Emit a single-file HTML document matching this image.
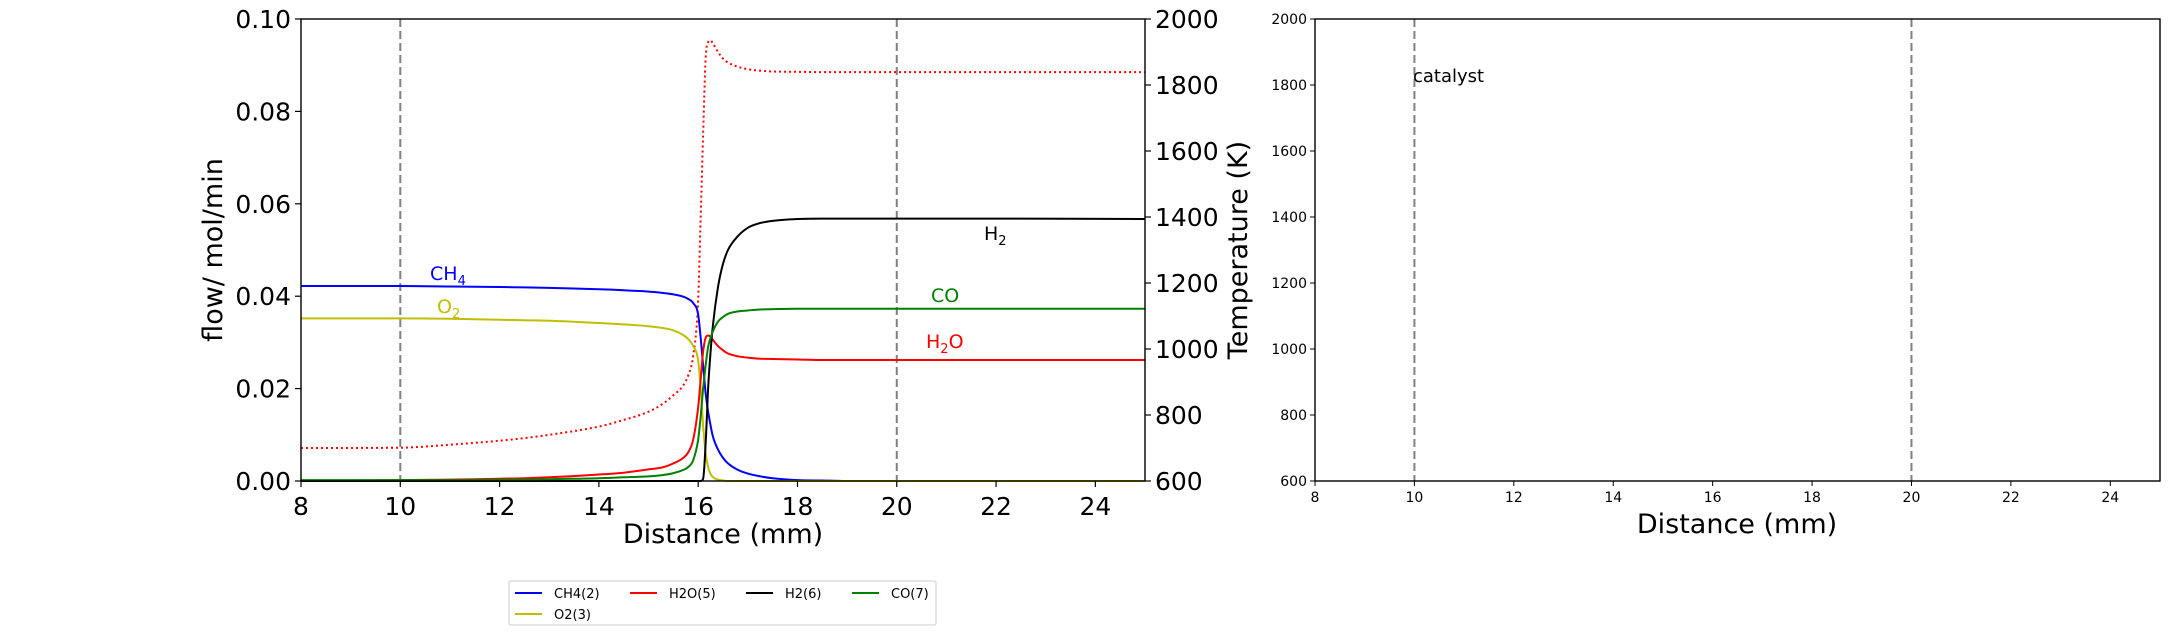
<!DOCTYPE html>
<html><head><meta charset="utf-8"><style>
body{margin:0;background:#fff;font-family:"Liberation Sans","DejaVu Sans",sans-serif}
svg text{font-family:"DejaVu Sans","Liberation Sans",sans-serif}
</style></head><body>
<svg id="fig" width="2173" height="636" xmlns="http://www.w3.org/2000/svg"></svg>
<script>
const xs=[8,10,11,12,12.5,13,14,14.5,15,15.3,15.5,15.7,15.8,15.9,16,16.05,16.1,16.15,16.2,16.25,16.3,16.4,16.5,16.6,16.8,17,17.2,17.5,18,18.5,19,20,22,25];
const ch4=[0.0422,0.0422,0.0421,0.042,0.0419,0.0418,0.0415,0.0413,0.041,0.0407,0.0404,0.0399,0.0394,0.0385,0.036,0.031,0.025,0.019,0.015,0.012,0.0095,0.0068,0.005,0.0038,0.0024,0.0016,0.0011,0.0006,0.0002,0.0001,0,0,0,0];
const o2=[0.0352,0.0352,0.0351,0.0349,0.0348,0.0347,0.0342,0.0339,0.0335,0.0331,0.0326,0.0316,0.0307,0.0292,0.026,0.02,0.012,0.006,0.003,0.0015,0.0008,0.0003,0.0001,0,0,0,0,0,0,0,0,0,0,0];
const h2o=[0,0.0002,0.0003,0.0005,0.0006,0.0008,0.0014,0.0018,0.0025,0.003,0.0038,0.005,0.0062,0.009,0.016,0.022,0.028,0.031,0.0315,0.0312,0.0305,0.0292,0.0283,0.0276,0.0270,0.0267,0.0265,0.0264,0.0263,0.0262,0.0262,0.0262,0.0262,0.0262];
const h2=[0,0,0,0,0,0,0,0,0,0,0,0,0,0,0,0,0.0005,0.008,0.02,0.028,0.034,0.042,0.047,0.050,0.053,0.0548,0.0557,0.0563,0.0567,0.0568,0.0568,0.0568,0.0568,0.0567];
const co=[0.0002,0.0002,0.0002,0.0003,0.0003,0.0004,0.0006,0.0008,0.001,0.0013,0.0017,0.0024,0.003,0.0045,0.009,0.014,0.02,0.025,0.029,0.031,0.0325,0.0345,0.0355,0.0362,0.0367,0.0369,0.0371,0.0372,0.0373,0.0373,0.0373,0.0373,0.0373,0.0373];
const temp=[700,701,710,722,730,740,765,785,810,835,860,890,920,980,1150,1400,1650,1880,1930,1935,1925,1900,1880,1868,1855,1848,1844,1841,1840,1839,1839,1839,1839,1839];
const xTicks=[8,10,12,14,16,18,20,22,24];
const yTicks=[0,0.02,0.04,0.06,0.08,0.10];
const tTicks=[600,800,1000,1200,1400,1600,1800,2000];
const NS="http://www.w3.org/2000/svg",svg=document.getElementById('fig');
function mk(t,a,p){const e=document.createElementNS(NS,t);for(const k in a)e.setAttribute(k,a[k]);(p||svg).appendChild(e);return e;}
const L={x0:301,x1:1145,y0:481,y1:19},R={x0:1315,x1:2160,y0:481,y1:19};
const sx=(P,v)=>P.x0+(v-8)/(25-8)*(P.x1-P.x0);
const syF=v=>L.y0-(v/0.1)*(L.y0-L.y1);
const syT=(P,v)=>P.y0-(v-600)/1400*(P.y0-P.y1);
function monoPath(px,py){const n=px.length,d=[],m=[];
for(let i=0;i<n-1;i++)d.push((py[i+1]-py[i])/(px[i+1]-px[i]));
m[0]=d[0];m[n-1]=d[n-2];
for(let i=1;i<n-1;i++){m[i]=(d[i-1]*d[i]<=0)?0:(d[i-1]+d[i])/2;}
for(let i=0;i<n-1;i++){if(d[i]===0){m[i]=0;m[i+1]=0;continue;}const a=m[i]/d[i],b=m[i+1]/d[i],s=a*a+b*b;if(s>9){const t=3/Math.sqrt(s);m[i]=t*a*d[i];m[i+1]=t*b*d[i];}}
let p='M'+px[0].toFixed(1)+','+py[0].toFixed(1);
for(let i=0;i<n-1;i++){const h=(px[i+1]-px[i])/3;p+='C'+(px[i]+h).toFixed(1)+','+(py[i]+m[i]*h).toFixed(1)+' '+(px[i+1]-h).toFixed(1)+','+(py[i+1]-m[i+1]*h).toFixed(1)+' '+px[i+1].toFixed(1)+','+py[i+1].toFixed(1);}
return p;}
[[L,10],[L,20],[R,10],[R,20]].forEach(([P,v])=>{const l=mk('line',{x1:sx(P,v),x2:sx(P,v),y1:P.y1,y2:P.y0,stroke:'#808080','stroke-width':2,'stroke-dasharray':'8,4'});

});
function series(arr,f,color,name,dash){const d=monoPath(xs.map(x=>sx(L,x)),arr.map(f));
const p=mk('path',{d:d,fill:'none',stroke:color,'stroke-width':2,'stroke-dasharray':dash||'none'});

}
series(temp,v=>syT(L,v),'#ff0000','temperature-line','2,3');
series(ch4,syF,'#0000ff','ch4-line');
series(o2,syF,'#bfbf00','o2-line');
series(h2o,syF,'#ff0000','h2o-line');
series(h2,syF,'#000000','h2-line');
series(co,syF,'#008000','co-line');
[L,R].forEach(P=>{const r=mk('rect',{x:P.x0,y:P.y1,width:P.x1-P.x0,height:P.y0-P.y1,fill:'none',stroke:'#000','stroke-width':1.4});

});
xTicks.forEach(v=>{const x=sx(L,v);mk('line',{x1:x,x2:x,y1:L.y0,y2:L.y0+6,stroke:'#000','stroke-width':1.2});
const t=mk('text',{x:x,y:L.y0+34,'font-size':25,'text-anchor':'middle'});t.textContent=v;

});
yTicks.forEach(v=>{const y=syF(v);mk('line',{x1:L.x0-6,x2:L.x0,y1:y,y2:y,stroke:'#000','stroke-width':1.2});
const t=mk('text',{x:L.x0-10,y:y+9,'font-size':25,'text-anchor':'end'});t.textContent=v.toFixed(2);

});
tTicks.forEach(v=>{const y=syT(L,v);mk('line',{x1:L.x1,x2:L.x1+6,y1:y,y2:y,stroke:'#000','stroke-width':1.2});
const t=mk('text',{x:L.x1+10,y:y+9,'font-size':25});t.textContent=v;

});
xTicks.forEach(v=>{const x=sx(R,v);mk('line',{x1:x,x2:x,y1:R.y0,y2:R.y0+5,stroke:'#000','stroke-width':1});
const t=mk('text',{x:x,y:R.y0+21,'font-size':14,'text-anchor':'middle'});t.textContent=v;

});
tTicks.forEach(v=>{const y=syT(R,v);mk('line',{x1:R.x0-5,x2:R.x0,y1:y,y2:y,stroke:'#000','stroke-width':1});
const t=mk('text',{x:R.x0-8,y:y+5,'font-size':14,'text-anchor':'end'});t.textContent=v;

});
</script>
<svg style="position:absolute;left:0;top:0" width="2173" height="636">
<text x="723" y="543" font-size="27" text-anchor="middle">Distance (mm)</text>
<text x="1737" y="533" font-size="27" text-anchor="middle">Distance (mm)</text>
<text transform="translate(222,250) rotate(-90)" font-size="27" text-anchor="middle">flow/ mol/min</text>
<text transform="translate(1247,250) rotate(-90)" font-size="27" text-anchor="middle">Temperature (K)</text>
<text x="1413" y="82" font-size="18">catalyst</text>
<text x="430" y="280" font-size="19" fill="#0000ff">CH<tspan font-size="13" dy="5">4</tspan></text>
<text x="437" y="313" font-size="19" fill="#bfbf00">O<tspan font-size="13" dy="5">2</tspan></text>
<text x="984" y="240" font-size="19" fill="#000">H<tspan font-size="13" dy="5">2</tspan></text>
<text x="931" y="302" font-size="19" fill="#008000">CO</text>
<text x="926" y="348" font-size="19" fill="#ff0000">H<tspan font-size="13" dy="5">2</tspan><tspan dy="-5">O</tspan></text>
<g>
<rect x="509" y="581" width="427" height="44" fill="#fff" stroke="#ccc" stroke-width="1" rx="2"/>
<g font-size="13">
<line x1="515" x2="542" y1="593" y2="593" stroke="#0000ff" stroke-width="2"/><text x="554" y="598">CH4(2)</text>
<line x1="630" x2="657" y1="593" y2="593" stroke="#ff0000" stroke-width="2"/><text x="669" y="598">H2O(5)</text>
<line x1="746" x2="773" y1="593" y2="593" stroke="#000" stroke-width="2"/><text x="785" y="598">H2(6)</text>
<line x1="852" x2="879" y1="593" y2="593" stroke="#008000" stroke-width="2"/><text x="891" y="598">CO(7)</text>
<line x1="515" x2="542" y1="614" y2="614" stroke="#bfbf00" stroke-width="2"/><text x="554" y="619">O2(3)</text>
</g></g>
</svg>
</body></html>
